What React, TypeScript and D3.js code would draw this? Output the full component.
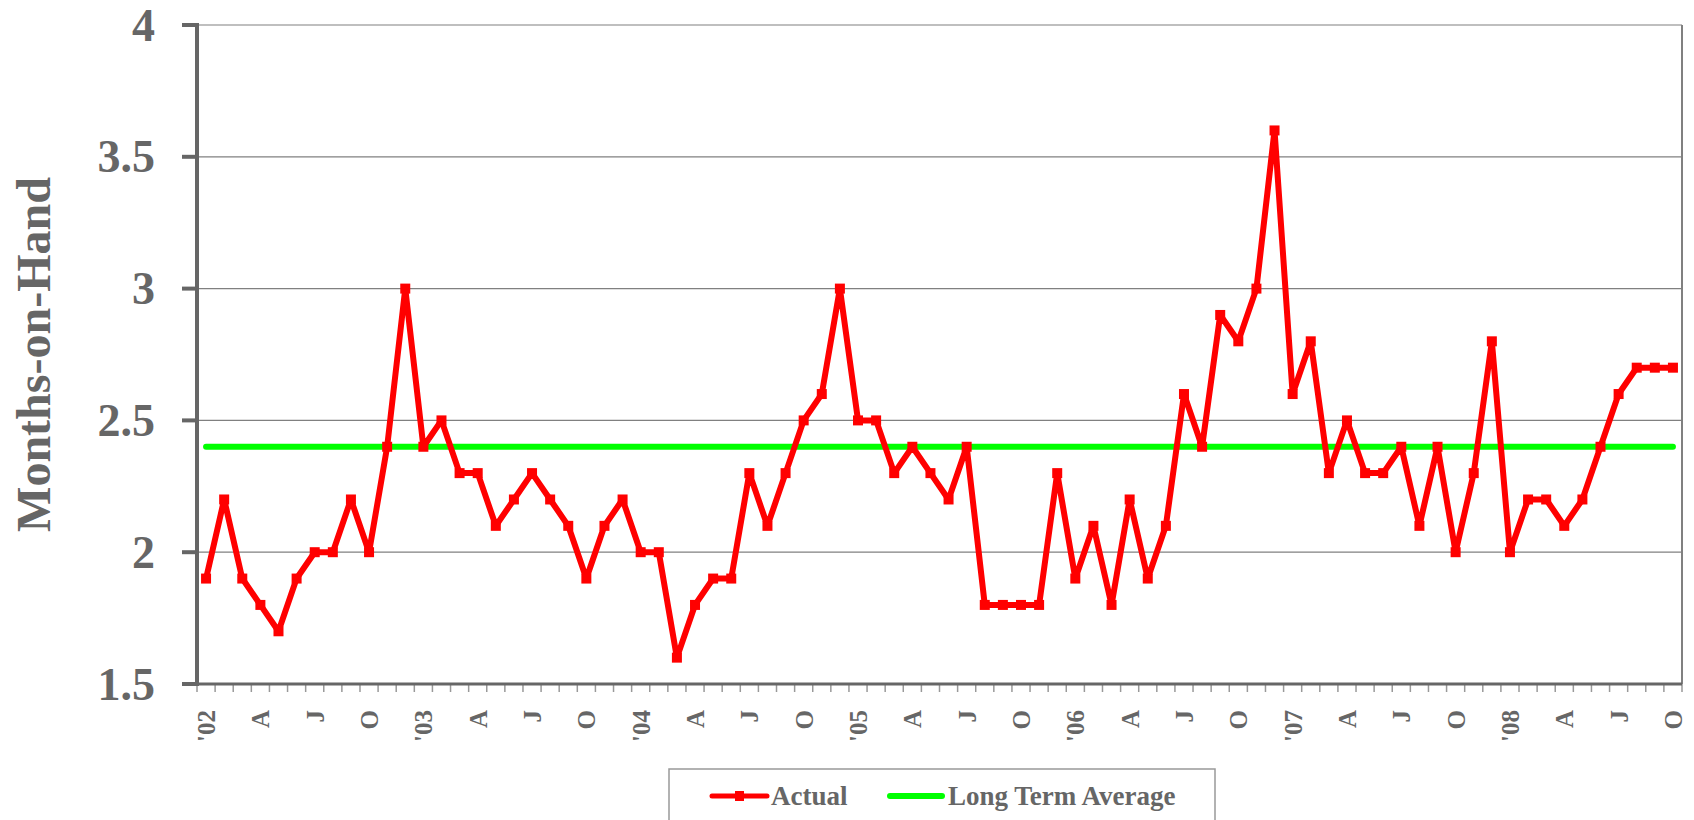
import React, { useEffect, useRef } from 'react';
import * as d3 from 'd3';

const years = ["'02", "'03", "'04", "'05", "'06", "'07", "'08"];
const quarterLabels = ['A', 'J', 'O'];
const monthsInLastYear = 10;

// months-on-hand, Jan 2002 .. Oct 2008
const actual = [
    1.9, 2.2, 1.9, 1.8, 1.7, 1.9, 2.0, 2.0, 2.2, 2.0, 2.4, 3.0,
    2.4, 2.5, 2.3, 2.3, 2.1, 2.2, 2.3, 2.2, 2.1, 1.9, 2.1, 2.2,
    2.0, 2.0, 1.6, 1.8, 1.9, 1.9, 2.3, 2.1, 2.3, 2.5, 2.6, 3.0,
    2.5, 2.5, 2.3, 2.4, 2.3, 2.2, 2.4, 1.8, 1.8, 1.8, 1.8, 2.3,
    1.9, 2.1, 1.8, 2.2, 1.9, 2.1, 2.6, 2.4, 2.9, 2.8, 3.0, 3.6,
    2.6, 2.8, 2.3, 2.5, 2.3, 2.3, 2.4, 2.1, 2.4, 2.0, 2.3, 2.8,
    2.0, 2.2, 2.2, 2.1, 2.2, 2.4, 2.6, 2.7, 2.7, 2.7
];
const longTermAverage = 2.4;
const yTicks = [1.5, 2, 2.5, 3, 3.5, 4];

const width = 1694;
const height = 820;
const font = '"Liberation Serif", "Times New Roman", serif';
const grey = '#666666';

function App() {
    const svgRef = useRef(null);

    useEffect(() => {
        const svg = d3.select(svgRef.current);
        svg.selectAll('*').remove();

        // month label for each point: year at Jan, quarter letter at Apr/Jul/Oct
        const labels = [];
        years.forEach((yr, i) => {
            const n = i === years.length - 1 ? monthsInLastYear : 12;
            for (let m = 0; m < n; m++) {
                if (m === 0) labels.push(yr);
                else if (m % 3 === 0) labels.push(quarterLabels[m / 3 - 1]);
                else labels.push('');
            }
        });

        const left = 197, right = 1682, top = 25, bottom = 684;
        const x = d3.scaleBand().domain(d3.range(actual.length)).range([left, right]).padding(0);
        const cx = i => x(i) + x.bandwidth() / 2;
        const y = d3.scaleLinear().domain([1.5, 4]).range([bottom, top]);

        // gridlines
        svg.append('g').selectAll('line')
            .data(yTicks.filter(t => t > 1.5))
            .enter().append('line')
            .attr('x1', left).attr('x2', right)
            .attr('y1', d => y(d)).attr('y2', d => y(d))
            .attr('stroke', '#808080').attr('stroke-width', 1.2);

        // right border
        svg.append('line')
            .attr('x1', right).attr('x2', right).attr('y1', top).attr('y2', bottom)
            .attr('stroke', '#808080').attr('stroke-width', 2);

        // x minor ticks
        svg.append('g').selectAll('line')
            .data(d3.range(actual.length + 1))
            .enter().append('line')
            .attr('x1', i => left + i * x.bandwidth()).attr('x2', i => left + i * x.bandwidth())
            .attr('y1', bottom).attr('y2', bottom + 8)
            .attr('stroke', '#999').attr('stroke-width', 1.5);

        // axes
        svg.append('line')
            .attr('x1', left).attr('x2', right).attr('y1', bottom).attr('y2', bottom)
            .attr('stroke', grey).attr('stroke-width', 3);
        svg.append('line')
            .attr('x1', left).attr('x2', left).attr('y1', top - 2).attr('y2', bottom + 2)
            .attr('stroke', grey).attr('stroke-width', 4);
        svg.append('g').selectAll('line')
            .data(yTicks)
            .enter().append('line')
            .attr('x1', left - 15).attr('x2', left)
            .attr('y1', d => y(d)).attr('y2', d => y(d))
            .attr('stroke', grey).attr('stroke-width', 4);

        // y tick labels
        svg.append('g').selectAll('text')
            .data(yTicks)
            .enter().append('text')
            .attr('x', 155).attr('y', d => y(d))
            .attr('dy', '0.34em')
            .attr('text-anchor', 'end')
            .attr('font-family', font).attr('font-weight', 'bold').attr('font-size', 46)
            .attr('fill', grey)
            .text(d => d);

        // y title
        svg.append('text')
            .attr('transform', `translate(50, ${(top + bottom) / 2}) rotate(-90)`)
            .attr('text-anchor', 'middle')
            .attr('font-family', font).attr('font-weight', 'bold').attr('font-size', 48)
            .attr('fill', grey)
            .text('Months-on-Hand');

        // x labels
        svg.append('g').selectAll('text')
            .data(labels.map((l, i) => ({ l, i })).filter(d => d.l))
            .enter().append('text')
            .attr('transform', d => `translate(${cx(d.i) + 9}, 710) rotate(-90)`)
            .attr('text-anchor', 'end')
            .attr('font-family', font).attr('font-weight', 'bold').attr('font-size', 25)
            .attr('fill', grey)
            .text(d => d.l);

        // long term average
        svg.append('line')
            .attr('x1', cx(0)).attr('x2', cx(actual.length - 1))
            .attr('y1', y(longTermAverage)).attr('y2', y(longTermAverage))
            .attr('stroke', '#00ff00').attr('stroke-width', 6).attr('stroke-linecap', 'round');

        // actual
        const line = d3.line().x((d, i) => cx(i)).y(d => y(d));
        svg.append('path')
            .datum(actual)
            .attr('d', line)
            .attr('fill', 'none')
            .attr('stroke', '#ff0000').attr('stroke-width', 6).attr('stroke-linejoin', 'round');
        svg.append('g').selectAll('rect')
            .data(actual)
            .enter().append('rect')
            .attr('x', (d, i) => cx(i) - 5).attr('y', d => y(d) - 5)
            .attr('width', 10).attr('height', 10)
            .attr('fill', '#ff0000');

        // legend
        const lg = svg.append('g');
        lg.append('rect')
            .attr('x', 669).attr('y', 769).attr('width', 546).attr('height', 100)
            .attr('fill', '#fff').attr('stroke', '#999').attr('stroke-width', 1.5);
        const ly = 796;
        lg.append('line').attr('x1', 712).attr('x2', 767).attr('y1', ly).attr('y2', ly)
            .attr('stroke', '#ff0000').attr('stroke-width', 5).attr('stroke-linecap', 'round');
        lg.append('rect').attr('x', 735).attr('y', ly - 5).attr('width', 9).attr('height', 10)
            .attr('fill', '#ff0000');
        lg.append('line').attr('x1', 890).attr('x2', 942).attr('y1', ly).attr('y2', ly)
            .attr('stroke', '#00ff00').attr('stroke-width', 6).attr('stroke-linecap', 'round');
        lg.selectAll('text.lbl')
            .data([{ t: 'Actual', x: 771 }, { t: 'Long Term Average', x: 948 }])
            .enter().append('text')
            .attr('x', d => d.x).attr('y', ly + 9)
            .attr('font-family', font).attr('font-weight', 'bold').attr('font-size', 27)
            .attr('fill', grey)
            .text(d => d.t);
    }, []);

    return (
        <div style={{ position: 'absolute', left: 0, top: 0 }}>
            <svg width={width} height={height} ref={svgRef} style={{ display: 'block', background: '#fff' }}></svg>
        </div>
    );
}

export default App;
